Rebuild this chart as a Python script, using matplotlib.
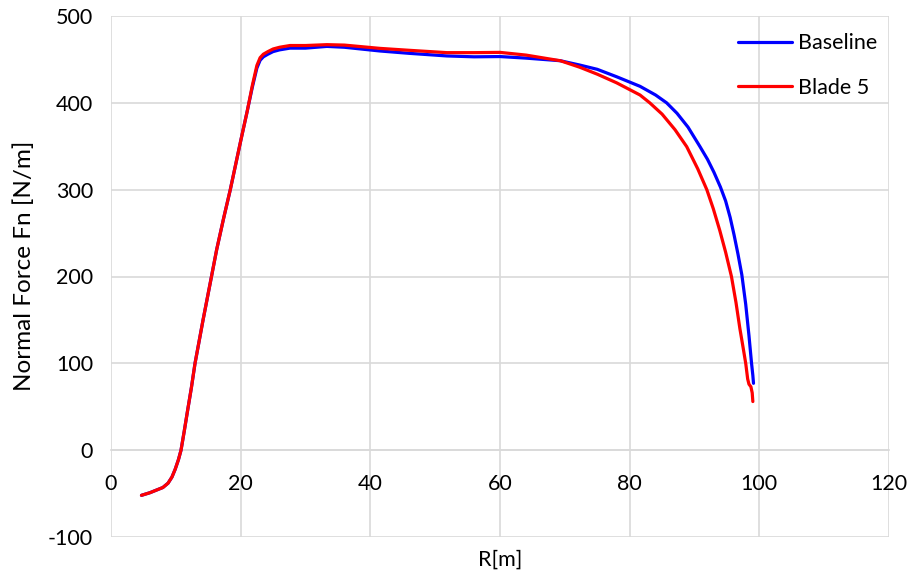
import matplotlib
matplotlib.use("Agg")
import matplotlib.pyplot as plt

# Data
baseline_r = [4.7, 6.0, 7.0, 8.0, 8.8, 9.4, 9.9, 10.4, 10.8, 11.3, 11.8, 12.4, 12.96, 14.2, 15.5,
              16.3, 17.4, 18.4, 19.2, 20.0, 21.0, 21.8, 22.5, 23.0, 23.5, 24.2, 25.0, 26.0,
              27.6, 30.0, 33.3, 36.0, 41.5, 46.0, 51.8, 56.0, 60.0, 64.0, 69.3, 72.3, 75.0,
              78.0, 81.6, 84.0, 85.7, 87.3, 89.0, 90.85, 92.0, 93.0, 94.0, 94.8, 95.5, 96.1,
              96.7, 97.3, 97.9, 98.4, 98.8, 99.0, 99.1]
baseline_f = [-52, -49, -46, -43, -38, -31, -22, -11, 0, 22, 45, 72, 100, 150, 200,
              231, 268, 300, 328, 356, 390, 418, 440, 449, 453, 456, 459, 461,
              463, 463, 465, 464, 459.7, 457, 454, 453, 453.3, 451.5, 448.5, 443.5, 438.6,
              430, 419, 409, 400, 388, 372, 349.5, 335, 320, 303, 287, 268, 248,
              226, 202, 168, 132, 100, 86, 77]

blade5_r = [4.7, 6.0, 7.0, 8.0, 8.8, 9.4, 9.9, 10.4, 10.8, 11.3, 11.8, 12.4, 12.96, 14.2, 15.5,
            16.3, 17.4, 18.4, 19.2, 20.0, 21.0, 21.8, 22.5, 23.0, 23.5, 24.2, 25.0, 26.0,
            27.6, 30.0, 33.3, 36.0, 41.5, 46.0, 51.8, 56.0, 60.0, 64.0, 69.3, 72.3, 75.0,
            78.0, 81.6, 83.1, 85.0, 87.0, 88.8, 90.5, 91.9, 92.9, 93.9, 94.8, 95.7, 96.4,
            97.0, 97.5, 97.9, 98.2, 98.4, 98.7, 98.9, 99.0]
blade5_f = [-52, -49, -46, -43, -38, -31, -22, -11, 0, 22, 45, 72, 100, 150, 200,
            231, 268, 300, 328, 356, 390, 420, 443, 452, 456, 459, 462, 464,
            466, 466, 467, 466.5, 462.7, 460.5, 457.8, 457.8, 458.1, 455, 448.5, 441, 433,
            423, 409, 400, 387, 369, 349.5, 324, 300, 278, 253, 228, 200, 170,
            140, 118, 100, 82, 76, 73, 66, 56]

x_ticks = [0, 20, 40, 60, 80, 100, 120]
y_ticks = [-100, 0, 100, 200, 300, 400, 500]

plt.rcParams['font.family'] = ['Lato', 'DejaVu Sans']
plt.rcParams['axes.unicode_minus'] = False
fs = 15.5

fig = plt.figure(figsize=(9.12, 5.80), dpi=100)
ax = fig.add_axes([111 / 912, 1 - 537 / 580, (889 - 111) / 912, (537 - 16) / 580])

grid_c = '#d9d9d9'
ax.plot(baseline_r, baseline_f, color='#0000ff', lw=2.3, label='Baseline',
        solid_joinstyle='round', solid_capstyle='round', zorder=3)
ax.plot(blade5_r, blade5_f, color='#ff0000', lw=2.3, label='Blade 5',
        solid_joinstyle='round', solid_capstyle='round', zorder=4)

ax.set_xlim(0, 120)
ax.set_ylim(-100, 500)
ax.set_xticks(x_ticks)
ax.set_yticks(y_ticks)
ax.grid(True, color=grid_c, lw=1.2)
ax.set_axisbelow(True)

for s in ['top', 'right', 'left']:
    ax.spines[s].set_visible(False)
ax.spines['bottom'].set_position(('data', 0))
ax.spines['bottom'].set_color(grid_c)
ax.spines['bottom'].set_linewidth(1.2)

ax.tick_params(axis='both', length=0, labelsize=fs, colors='black')
ax.tick_params(axis='x', pad=17)
ax.tick_params(axis='y', pad=13)

ax.set_xlabel('R[m]', fontsize=fs)
ax.xaxis.set_label_coords(0.5, -0.024)
ax.set_ylabel('Normal Force Fn [N/m]', fontsize=17.5)
ax.yaxis.set_label_coords(-0.098, 0.52)

leg = ax.legend(loc='upper right', frameon=False, fontsize=fs, handlelength=2.5,
                handletextpad=0.28, labelspacing=1.15, borderaxespad=0.15,
                bbox_to_anchor=(1.0, 0.99))

fig.savefig('out.png', dpi=100)
